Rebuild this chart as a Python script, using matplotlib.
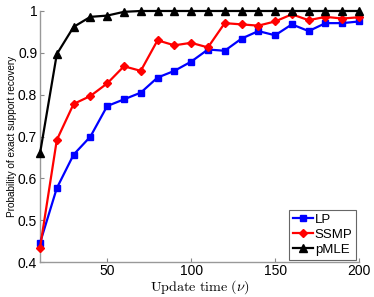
import matplotlib
matplotlib.use("Agg")
import matplotlib.pyplot as plt

update_time = [10, 20, 30, 40, 50, 60, 70, 80, 90, 100,
               110, 120, 130, 140, 150, 160, 170, 180, 190, 200]
lp = [0.446, 0.577, 0.657, 0.700, 0.773, 0.789, 0.805, 0.841, 0.857, 0.879,
      0.908, 0.905, 0.934, 0.952, 0.942, 0.968, 0.952, 0.971, 0.971, 0.975]
ssmp = [0.434, 0.692, 0.778, 0.797, 0.827, 0.868, 0.857, 0.930, 0.918, 0.924,
        0.913, 0.971, 0.968, 0.965, 0.975, 0.992, 0.978, 0.986, 0.982, 0.985]
pmle = [0.660, 0.897, 0.962, 0.986, 0.989, 0.998, 1.0, 1.0, 1.0, 1.0,
        1.0, 1.0, 1.0, 1.0, 1.0, 1.0, 1.0, 1.0, 1.0, 1.0]
xticks = [50, 100, 150, 200]
yticks = [0.4, 0.5, 0.6, 0.7, 0.8, 0.9, 1.0]
yticklabels = ["0.4", "0.5", "0.6", "0.7", "0.8", "0.9", "1"]

plt.rcParams['font.family'] = ['Liberation Sans', 'DejaVu Sans']
plt.rcParams['mathtext.fontset'] = 'cm'

fig = plt.figure(figsize=(3.74, 2.97), dpi=100)
ax = fig.add_axes([0.107, 0.117, 0.853, 0.846])

ax.plot(update_time, lp, color='#0000ff', lw=1.6, marker='s', ms=4, label='LP', clip_on=False, zorder=3)
ax.plot(update_time, ssmp, color='#ff0000', lw=1.6, marker='D', ms=4, label='SSMP', clip_on=False, zorder=4)
ax.plot(update_time, pmle, color='black', lw=1.6, marker='^', ms=5.5, label='pMLE', clip_on=False, zorder=5)

ax.set_xlim(10, 200)
ax.set_ylim(0.4, 1.0)
ax.set_xticks(xticks)
ax.set_yticks(yticks)
ax.set_yticklabels(yticklabels)
ax.tick_params(direction='in', length=3, labelsize=10, color='#888888', pad=2)
ax.tick_params(axis='x', pad=1.5)
for s in ['top', 'right']:
    ax.spines[s].set_visible(False)
for s in ['left', 'bottom']:
    ax.spines[s].set_color('#999999')
    ax.spines[s].set_linewidth(1.0)

ax.set_ylabel('Probability of exact support recovery', fontsize=7.2, labelpad=1)
ax.set_xlabel(r'$\mathrm{Update\ time\ }(\nu)$', fontsize=10.2, labelpad=0)

leg = ax.legend(loc='lower right', fontsize=9.5, handlelength=1.5, handletextpad=0.15,
                borderpad=0.3, labelspacing=0.2, fancybox=False, framealpha=1,
                edgecolor='#666666', borderaxespad=0.2)
leg.get_frame().set_linewidth(0.8)

fig.savefig('out.png', dpi=100)
